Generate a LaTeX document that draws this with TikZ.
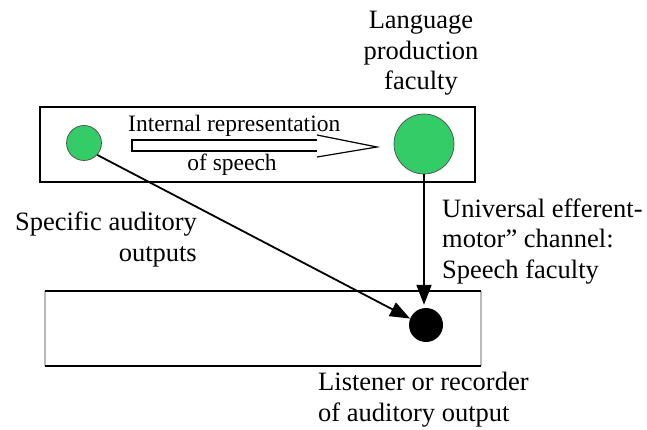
\documentclass[tikz,border=0pt]{standalone}
\usepackage{fontspec}
\setmainfont{Liberation Serif}
\usetikzlibrary{arrows.meta}
\definecolor{dotgreen}{RGB}{51,204,102}
\begin{document}
\begin{tikzpicture}[x=1pt,y=-1pt,
  txt/.style={font=\fontsize{26.5}{30.5}\selectfont, inner sep=0pt},
  itxt/.style={font=\fontsize{23.5}{27}\selectfont, inner sep=0pt},
  gdot/.style={circle, fill=dotgreen, draw=black!70, line width=0.7pt, inner sep=0pt},
  arr/.style={line width=1.8pt, -{Triangle[length=20pt,width=15pt]}},
  box/.style={inner sep=0pt, minimum width=435pt, minimum height=75pt}]
\useasboundingbox (0,0) rectangle (647,430);
% boxes
\node[box, draw, line width=2.5pt] (topbox) at (257.5,144.5) {};
\node[box] (botbox) at (263,328.2) {};
\draw[gray!55, line width=2pt] (botbox.north west) -- (botbox.south west)
      (botbox.north east) -- (botbox.south east);
\draw[black, line width=2pt] (botbox.north west) -- (botbox.north east)
      (botbox.south west) -- (botbox.south east);
% circles
\node[gdot, minimum size=35pt] (small) at (84,143) {};
\node[gdot, minimum size=60pt] (big) at (424,144) {};
\node[circle, fill=black, inner sep=0pt, minimum size=34pt] (dot) at (426,325) {};
% hollow arrow
\coordinate (ha1) at (132,140);
\coordinate (ha2) at (317,140);
\coordinate (ha3) at (317,151);
\coordinate (ha4) at (132,151);
\coordinate (hb1) at (317,135);
\coordinate (htip) at (377,147);
\coordinate (hb2) at (317,157);
\draw[line width=2pt] (ha2) -- (ha1) -- (ha4) -- (ha3);
\draw[line width=1.2pt] (hb1) -- (htip) -- (hb2);
% connectors
\draw[arr] (small.-42) -- (dot.158);
\draw[arr, shorten >=3pt] (big.south) -- (big.south |- dot.north);
% texts (base anchor of a multi-line node = baseline of its last line)
\node[txt, align=center, anchor=base] (lpf) at (421,90) {Language\\production\\faculty};
\node[itxt, anchor=base west] (irep) at (128,132) {Internal representation};
\node[itxt, anchor=base] (ofsp) at (232,171) {of speech};
\node[txt, align=right, anchor=base east] (sao) at (197,261) {Specific auditory\\outputs};
\node[txt, align=left, anchor=base west] (uem) at (442,278) {Universal efferent-\\motor” channel:\\Speech faculty};
\node[txt, align=left, anchor=base west] (lis) at (318,421) {Listener or recorder\\of auditory output};
\end{tikzpicture}
\end{document}
